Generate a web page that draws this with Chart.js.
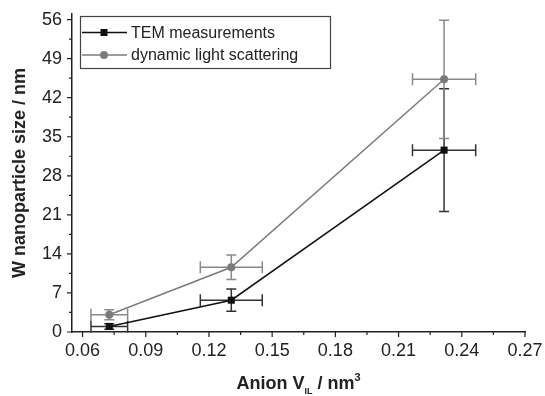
<!DOCTYPE html>
<html>
<head>
<meta charset="utf-8">
<script src="https://cdn.jsdelivr.net/npm/chart.js@4"></script>
<style>
html, body { margin: 0; padding: 0; background: #fff; }
</style>
</head>
<body>
<canvas id="c" width="545" height="396"></canvas>
<script>
// values
const anionVolume = [0.0727, 0.1306, 0.2316];
const anionVolumeErr = [0.0087, 0.0147, 0.015];
const temSize = [1.0, 5.7, 32.6];
const temSizeErr = [0.5, 2.0, 11.0];
const dlsSize = [3.1, 11.6, 45.3];
const dlsSizeErr = [0.9, 2.2, 10.6];
const xTicks = [0.06, 0.09, 0.12, 0.15, 0.18, 0.21, 0.24, 0.27];
const yTicks = [0, 7, 14, 21, 28, 35, 42, 49, 56];

const FONT = '"Liberation Sans", Arial, sans-serif';
const TEM_COLOR = '#111';
const DLS_COLOR = '#7b7b7b';

const toPoints = (ys) => anionVolume.map((x, i) => ({ x, y: ys[i] }));

// error bars, drawn under the markers
const errorBars = {
  id: 'errorBars',
  beforeDatasetsDraw(chart) {
    const { ctx, scales: { x, y } } = chart;
    ctx.save();
    ctx.lineWidth = 1.5;
    chart.data.datasets.forEach((ds) => {
      ctx.strokeStyle = ds.errColor;
      ds.data.forEach((p, i) => {
        const px = x.getPixelForValue(p.x);
        const py = y.getPixelForValue(p.y);
        const yTop = y.getPixelForValue(p.y + ds.yErr[i]);
        const yBot = y.getPixelForValue(p.y - ds.yErr[i]);
        const xL = x.getPixelForValue(p.x - anionVolumeErr[i]);
        const xR = x.getPixelForValue(p.x + anionVolumeErr[i]);
        ctx.beginPath();
        ctx.moveTo(px, yTop); ctx.lineTo(px, yBot);
        ctx.moveTo(px - 5, yTop); ctx.lineTo(px + 5, yTop);
        ctx.moveTo(px - 5, yBot); ctx.lineTo(px + 5, yBot);
        ctx.moveTo(xL, py); ctx.lineTo(xR, py);
        ctx.moveTo(xL, py - 6); ctx.lineTo(xL, py + 6);
        ctx.moveTo(xR, py - 6); ctx.lineTo(xR, py + 6);
        ctx.stroke();
      });
    });
    ctx.restore();
  }
};

// outward major/minor ticks, x title with sub/superscript, boxed legend
const decorations = {
  id: 'decorations',
  afterDraw(chart) {
    const { ctx, chartArea, scales: { x, y } } = chart;
    ctx.save();
    ctx.strokeStyle = '#222';
    ctx.lineWidth = 1.2;
    ctx.beginPath();
    xTicks.forEach((v, i) => {
      const px = x.getPixelForValue(v);
      ctx.moveTo(px, chartArea.bottom); ctx.lineTo(px, chartArea.bottom + 5);
      if (i < xTicks.length - 1) {
        const m = x.getPixelForValue((v + xTicks[i + 1]) / 2);
        ctx.moveTo(m, chartArea.bottom); ctx.lineTo(m, chartArea.bottom + 3);
      }
    });
    yTicks.forEach((v, i) => {
      const py = y.getPixelForValue(v);
      ctx.moveTo(chartArea.left, py); ctx.lineTo(chartArea.left - 5, py);
      if (i < yTicks.length - 1) {
        const m = y.getPixelForValue((v + yTicks[i + 1]) / 2);
        ctx.moveTo(chartArea.left, m); ctx.lineTo(chartArea.left - 3, m);
      }
    });
    ctx.stroke();

    // x axis title: Anion V_IL / nm^3
    const parts = [
      { t: 'Anion V', f: 'bold 18px ' + FONT, dy: 0 },
      { t: 'IL', f: 'bold 9px ' + FONT, dy: 5 },
      { t: ' / nm', f: 'bold 18px ' + FONT, dy: 0 },
      { t: '3', f: 'bold 11px ' + FONT, dy: -8 }
    ];
    let total = 0;
    parts.forEach((p) => { ctx.font = p.f; p.w = ctx.measureText(p.t).width; total += p.w; });
    let tx = (chartArea.left + chartArea.right) / 2 - total / 2;
    ctx.fillStyle = '#222';
    ctx.textBaseline = 'alphabetic';
    parts.forEach((p) => { ctx.font = p.f; ctx.fillText(p.t, tx, 389 + p.dy); tx += p.w; });

    // legend
    ctx.strokeStyle = '#444';
    ctx.lineWidth = 1.2;
    ctx.strokeRect(80.5, 16.5, 250, 52);
    ctx.font = '16px ' + FONT;
    ctx.textBaseline = 'middle';
    chart.data.datasets.forEach((ds, i) => {
      const ly = 32.5 + i * 22.5;
      ctx.strokeStyle = ds.borderColor;
      ctx.lineWidth = 1.5;
      ctx.beginPath(); ctx.moveTo(82, ly); ctx.lineTo(127, ly); ctx.stroke();
      ctx.fillStyle = ds.pointBackgroundColor;
      ctx.beginPath();
      if (ds.pointStyle === 'rect') ctx.rect(100.5, ly - 3.5, 7, 7);
      else ctx.arc(104, ly, 4, 0, Math.PI * 2);
      ctx.fill();
      ctx.fillStyle = '#222';
      ctx.fillText(ds.label, 131, ly + 1);
    });
    ctx.restore();
  }
};

new Chart(document.getElementById('c'), {
  type: 'line',
  data: {
    datasets: [
      {
        label: 'TEM measurements',
        data: toPoints(temSize),
        yErr: temSizeErr,
        errColor: '#333',
        borderColor: TEM_COLOR,
        borderWidth: 1.5,
        pointStyle: 'rect',
        pointRadius: 5,
        pointBackgroundColor: TEM_COLOR,
        pointBorderWidth: 0,
        tension: 0
      },
      {
        label: 'dynamic light scattering',
        data: toPoints(dlsSize),
        yErr: dlsSizeErr,
        errColor: '#8a8a8a',
        borderColor: DLS_COLOR,
        borderWidth: 1.5,
        pointStyle: 'circle',
        pointRadius: 4,
        pointBackgroundColor: DLS_COLOR,
        pointBorderWidth: 0,
        tension: 0
      }
    ]
  },
  options: {
    responsive: false,
    animation: false,
    layout: { padding: { top: 14, right: 20, bottom: 0, left: 0 } },
    plugins: { legend: { display: false }, tooltip: { enabled: false } },
    scales: {
      x: {
        type: 'linear',
        min: 0.055,
        max: 0.27,
        afterBuildTicks: (s) => { s.ticks = xTicks.map((v) => ({ value: v })); },
        afterFit: (s) => { s.height = 64; s.paddingLeft = 0; s.paddingRight = 0; },
        grid: { display: false, drawTicks: false },
        border: { display: true, color: '#222', width: 1.5 },
        ticks: {
          padding: 8,
          color: '#222',
          font: { family: FONT, size: 18 },
          maxRotation: 0,
          callback: (v) => v.toFixed(2)
        }
      },
      y: {
        type: 'linear',
        min: 0,
        max: 57,
        afterBuildTicks: (s) => { s.ticks = yTicks.map((v) => ({ value: v })); },
        afterFit: (s) => { s.width = 72; s.paddingTop = 0; s.paddingBottom = 0; },
        grid: { display: false, drawTicks: false },
        border: { display: true, color: '#222', width: 1.5 },
        title: {
          display: true,
          text: 'W nanoparticle size / nm',
          color: '#222',
          font: { family: FONT, size: 18, weight: 'bold' },
          padding: { top: 9, bottom: 0 }
        },
        ticks: {
          padding: 10,
          color: '#222',
          font: { family: FONT, size: 18 },
          callback: (v) => String(v)
        }
      }
    }
  },
  plugins: [errorBars, decorations]
});
</script>
</body>
</html>
